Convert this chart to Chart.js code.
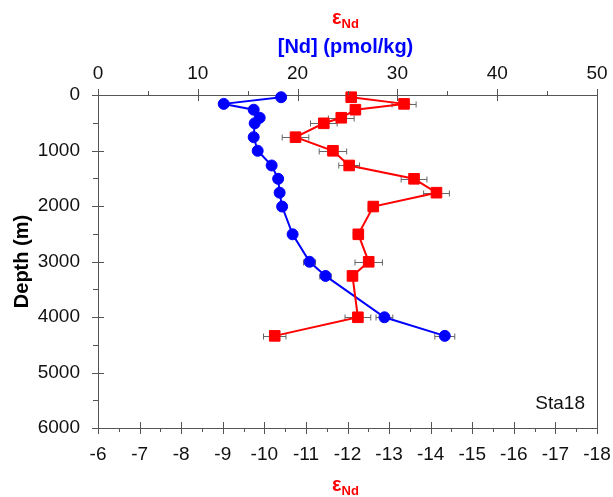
<!DOCTYPE html>
<html><head><meta charset="utf-8">
<script src="https://cdn.jsdelivr.net/npm/chart.js@4.4.1/dist/chart.umd.min.js"></script>
<style>html,body{margin:0;padding:0;background:#fff}</style>
</head><body>
<canvas id="c" width="613" height="497"></canvas>
<script>
// ---- data ----
const depths     = [40, 160, 265, 410, 510, 760, 1005, 1270, 1510, 1760, 2010, 2510, 3005, 3260, 4005, 4340];
const ndValues   = [18.35, 12.6, 15.6, 16.2, 15.7, 15.6, 16.0, 17.4, 18.05, 18.2, 18.45, 19.5, 21.2, 22.8, 28.7, 34.75];
const ndErrors   = [0.3, 0.3, 0.3, 0.3, 0.3, 0.3, 0.3, 0.3, 0.4, 0.4, 0.4, 0.4, 0.6, 0.57, 0.84, 1.0];
const epsValues  = [-12.09, -13.36, -12.19, -11.85, -11.43, -10.75, -11.65, -12.04, -13.6, -14.14, -12.62, -12.26, -12.51, -12.12, -12.25, -10.25];
const epsErrors  = [0.12, 0.29, 0.12, 0.31, 0.32, 0.32, 0.33, 0.25, 0.31, 0.31, 0.12, 0.12, 0.33, 0.12, 0.31, 0.27];
const ndTicks    = [0, 10, 20, 30, 40, 50];
const epsTicks   = [-6, -7, -8, -9, -10, -11, -12, -13, -14, -15, -16, -17, -18];
const depthTicks = [0, 1000, 2000, 3000, 4000, 5000, 6000];
const stationLabel = 'Sta18';

const FONT = "'Liberation Sans', Arial, Helvetica, sans-serif";
const RED = '#ff0000', BLUE = '#0000ff';

const decor = {
  id: 'decor',
  beforeDatasetsDraw(chart) {
    const ctx = chart.ctx, y = chart.scales.y, xe = chart.scales.x, xn = chart.scales.xNd;
    ctx.save();
    ctx.strokeStyle = '#666'; ctx.lineWidth = 1;
    const bar = (scale, v, e, d) => {
      const py = Math.round(y.getPixelForValue(d)) + 0.5;
      const a = scale.getPixelForValue(v - e), b = scale.getPixelForValue(v + e);
      ctx.beginPath();
      ctx.moveTo(a, py); ctx.lineTo(b, py);
      ctx.moveTo(a, py - 3); ctx.lineTo(a, py + 3);
      ctx.moveTo(b, py - 3); ctx.lineTo(b, py + 3);
      ctx.stroke();
    };
    depths.forEach((d, i) => {
      bar(xe, epsValues[i], epsErrors[i], d);
      bar(xn, ndValues[i], ndErrors[i], d);
    });
    ctx.restore();
  },
  afterDraw(chart) {
    const ctx = chart.ctx, y = chart.scales.y, xe = chart.scales.x, xn = chart.scales.xNd;
    const ca = chart.chartArea;
    ctx.save();
    ctx.strokeStyle = '#555'; ctx.lineWidth = 1;
    ctx.beginPath();
    // right frame
    ctx.moveTo(ca.right + 0.5, ca.top); ctx.lineTo(ca.right + 0.5, ca.bottom);
    // top ticks
    ndTicks.forEach(v => { const p = Math.round(xn.getPixelForValue(v)) + 0.5; ctx.moveTo(p, ca.top - 6); ctx.lineTo(p, ca.top + 6); });
    for (let i = 0; i < ndTicks.length - 1; i++) { const p = Math.round(xn.getPixelForValue((ndTicks[i] + ndTicks[i+1]) / 2)) + 0.5; ctx.moveTo(p, ca.top - 4); ctx.lineTo(p, ca.top); }
    // bottom ticks
    epsTicks.forEach(v => { const p = Math.round(xe.getPixelForValue(v)) + 0.5; ctx.moveTo(p, ca.bottom - 6); ctx.lineTo(p, ca.bottom + 6); });
    for (let i = 0; i < epsTicks.length - 1; i++) { const p = Math.round(xe.getPixelForValue((epsTicks[i] + epsTicks[i+1]) / 2)) + 0.5; ctx.moveTo(p, ca.bottom); ctx.lineTo(p, ca.bottom + 4); }
    // left ticks
    depthTicks.forEach(v => { const p = Math.round(y.getPixelForValue(v)) + 0.5; ctx.moveTo(ca.left - 6, p); ctx.lineTo(ca.left + 6, p); });
    for (let i = 0; i < depthTicks.length - 1; i++) { const p = Math.round(y.getPixelForValue((depthTicks[i] + depthTicks[i+1]) / 2)) + 0.5; ctx.moveTo(ca.left - 5, p); ctx.lineTo(ca.left, p); }
    ctx.stroke();

    const cx = (ca.left + ca.right) / 2 - 2;
    const eps = (xc, yc) => {
      ctx.fillStyle = RED;
      ctx.textBaseline = 'alphabetic';
      ctx.font = 'bold 20px ' + FONT;
      const w1 = ctx.measureText('ε').width;
      ctx.font = 'bold 13px ' + FONT;
      const w2 = ctx.measureText('Nd').width;
      const x0 = xc - (w1 + w2) / 2;
      ctx.font = 'bold 20px ' + FONT; ctx.textAlign = 'left';
      ctx.fillText('ε', x0, yc);
      ctx.font = 'bold 13px ' + FONT;
      ctx.fillText('Nd', x0 + w1, yc + 4);
    };
    eps(cx, 24);
    eps(cx, 491);

    ctx.fillStyle = BLUE; ctx.font = 'bold 20px ' + FONT; ctx.textAlign = 'center'; ctx.textBaseline = 'middle';
    ctx.fillText('[Nd] (pmol/kg)', cx, 47);

    ctx.fillStyle = '#000';
    ctx.save(); ctx.translate(22, (ca.top + ca.bottom) / 2); ctx.rotate(-Math.PI / 2);
    ctx.fillText('Depth (m)', 0, 0); ctx.restore();

    ctx.font = '19px ' + FONT; ctx.textAlign = 'right'; ctx.fillStyle = '#111';
    ctx.fillText(stationLabel, ca.right - 12, 404);
    ctx.restore();
  }
};

const fitH = h => s => { s.height = h; s.paddingLeft = 0; s.paddingRight = 0; };

new Chart(document.getElementById('c'), {
  type: 'scatter',
  data: {
    datasets: [
      {
        label: 'εNd',
        data: depths.map((d, i) => ({ x: epsValues[i], y: d })),
        xAxisID: 'x', yAxisID: 'y',
        showLine: true, borderColor: RED, backgroundColor: RED, borderWidth: 2,
        pointStyle: 'rect', pointRadius: 7.5, pointBorderWidth: 1, pointBorderColor: RED,
        clip: false
      },
      {
        label: '[Nd]',
        data: depths.map((d, i) => ({ x: ndValues[i], y: d })),
        xAxisID: 'xNd', yAxisID: 'y',
        showLine: true, borderColor: BLUE, backgroundColor: BLUE, borderWidth: 2,
        pointStyle: 'circle', pointRadius: 5.5, pointBorderWidth: 1, pointBorderColor: BLUE,
        clip: false
      }
    ]
  },
  options: {
    responsive: false, animation: false, devicePixelRatio: 1,
    layout: { padding: { left: 0, right: 16, top: 0, bottom: 0 } },
    plugins: { legend: { display: false }, tooltip: { enabled: false } },
    scales: {
      x: {
        type: 'linear', position: 'bottom', min: -18, max: -6, reverse: true,
        afterBuildTicks: s => { s.ticks = epsTicks.map(v => ({ value: v })); },
        afterFit: fitH(69),
        grid: { display: false, drawTicks: false },
        border: { display: true, color: '#555', width: 1 },
        ticks: { padding: 15, color: '#111', font: { family: FONT, size: 19 }, maxRotation: 0, autoSkip: false, callback: v => String(v) }
      },
      xNd: {
        type: 'linear', position: 'top', min: 0, max: 50,
        afterBuildTicks: s => { s.ticks = ndTicks.map(v => ({ value: v })); },
        afterFit: fitH(95),
        grid: { display: false, drawTicks: false },
        border: { display: true, color: '#555', width: 1 },
        ticks: { padding: 10, color: '#111', font: { family: FONT, size: 19 }, maxRotation: 0, autoSkip: false, callback: v => String(v) }
      },
      y: {
        type: 'linear', position: 'left', min: 0, max: 6000, reverse: true,
        afterBuildTicks: s => { s.ticks = depthTicks.map(v => ({ value: v })); },
        afterFit: s => { s.width = 98; s.paddingTop = 0; s.paddingBottom = 0; },
        grid: { display: false, drawTicks: false },
        border: { display: true, color: '#555', width: 1 },
        ticks: { padding: 18, color: '#111', font: { family: FONT, size: 19 }, autoSkip: false, callback: v => String(v) }
      }
    }
  },
  plugins: [decor]
});
</script>
</body></html>
